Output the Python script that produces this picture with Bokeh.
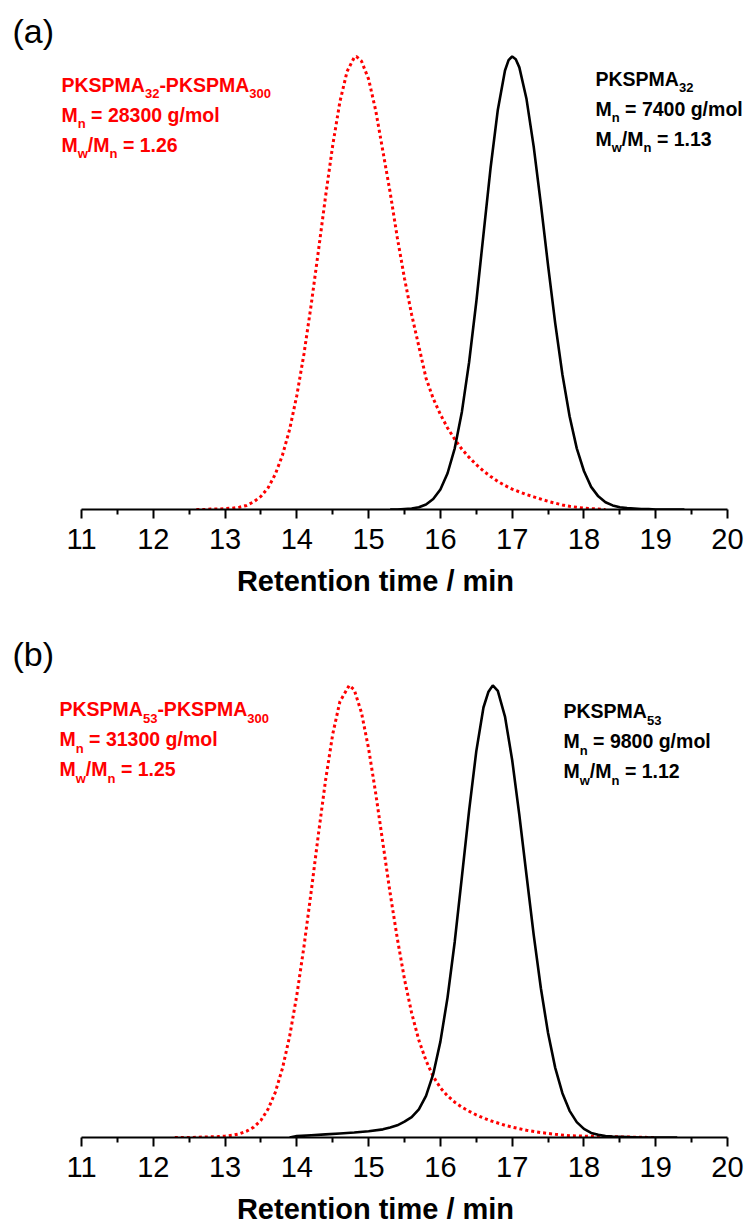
from bokeh.plotting import figure
from bokeh.layouts import column
from bokeh.models import Label, FixedTicker, Range1d
from bokeh.embed import file_html
from bokeh.resources import INLINE

# ---------------- data (retention time in min, normalised detector signal) ----------------
# panel (a)
a_block_t = [12.6, 12.7, 12.8, 12.9, 13.0, 13.1, 13.2, 13.3, 13.4, 13.5, 13.6, 13.7, 13.8, 13.9,
             14.0, 14.1, 14.2, 14.3, 14.4, 14.5, 14.6, 14.7, 14.8, 14.83, 14.9, 15.0, 15.1, 15.2,
             15.3, 15.4, 15.5, 15.6, 15.7, 15.8, 15.9, 16.0, 16.1, 16.2, 16.3, 16.4, 16.5, 16.6,
             16.7, 16.8, 16.9, 17.0, 17.1, 17.2, 17.3, 17.4, 17.5, 17.6, 17.7, 17.8, 17.9, 18.0,
             18.1, 18.2, 18.3]
a_block_y = [0.000, 0.000, 0.001, 0.001, 0.002, 0.003, 0.005, 0.009, 0.017, 0.029, 0.048, 0.078, 0.120, 0.177,
             0.252, 0.344, 0.452, 0.570, 0.691, 0.804, 0.900, 0.967, 0.998, 1.000, 0.990, 0.950, 0.880, 0.790,
             0.700, 0.600, 0.510, 0.430, 0.360, 0.290, 0.245, 0.210, 0.180, 0.155, 0.133, 0.115, 0.099, 0.085,
             0.073, 0.062, 0.053, 0.045, 0.039, 0.033, 0.028, 0.023, 0.018, 0.014, 0.010, 0.007, 0.005, 0.003,
             0.002, 0.001, 0.000]
a_macro_t = [15.3, 15.4, 15.5, 15.6, 15.7, 15.8, 15.9, 16.0, 16.1, 16.2, 16.3, 16.4, 16.5, 16.6,
             16.7, 16.8, 16.9, 16.95, 17.0, 17.05, 17.1, 17.2, 17.3, 17.4, 17.5, 17.6, 17.7, 17.8, 17.9, 18.0,
             18.1, 18.2, 18.3, 18.4, 18.5, 18.6, 18.7, 18.8, 18.9, 19.0, 19.2, 19.4]
a_macro_y = [0.000, 0.000, 0.001, 0.002, 0.005, 0.011, 0.023, 0.044, 0.080, 0.135, 0.216, 0.325, 0.458, 0.607,
             0.755, 0.882, 0.969, 0.992, 1.000, 0.994, 0.976, 0.906, 0.801, 0.674, 0.539, 0.411, 0.298, 0.206, 0.135, 0.085,
             0.050, 0.029, 0.016, 0.009, 0.005, 0.003, 0.002, 0.001, 0.001, 0.000, 0.000, 0.000]

# panel (b)
b_block_t = [12.3, 12.5, 12.7, 12.9, 13.0, 13.1, 13.2, 13.3, 13.4, 13.5, 13.6, 13.7, 13.8, 13.9,
             14.0, 14.1, 14.2, 14.3, 14.4, 14.5, 14.6, 14.73, 14.8, 14.9, 15.0, 15.1, 15.2, 15.3,
             15.4, 15.5, 15.6, 15.7, 15.8, 15.9, 16.0, 16.1, 16.2, 16.3, 16.4, 16.5, 16.6, 16.7,
             16.8, 16.9, 17.0, 17.2, 17.4, 17.6, 17.8, 18.0, 18.3, 18.6, 19.0]
b_block_y = [0.000, 0.000, 0.001, 0.002, 0.003, 0.005, 0.008, 0.014, 0.023, 0.038, 0.063, 0.100, 0.153, 0.224,
             0.315, 0.423, 0.544, 0.670, 0.790, 0.892, 0.964, 1.000, 0.990, 0.940, 0.860, 0.760, 0.650, 0.540,
             0.440, 0.350, 0.275, 0.215, 0.170, 0.135, 0.110, 0.092, 0.078, 0.067, 0.058, 0.050, 0.043, 0.037,
             0.032, 0.027, 0.023, 0.016, 0.011, 0.007, 0.004, 0.003, 0.002, 0.001, 0.000]
b_macro_t = [13.9, 14.0, 14.2, 14.4, 14.6, 14.8, 15.0, 15.2, 15.3, 15.4, 15.5, 15.6, 15.7, 15.8,
             15.9, 16.0, 16.1, 16.2, 16.3, 16.4, 16.5, 16.6, 16.67, 16.73, 16.8, 16.9, 17.0, 17.1, 17.2,
             17.3, 17.4, 17.5, 17.6, 17.7, 17.8, 17.9, 18.0, 18.1, 18.2, 18.3, 18.4, 18.6, 18.8,
             19.0, 19.3]
b_macro_y = [0.000, 0.003, 0.005, 0.007, 0.009, 0.011, 0.014, 0.018, 0.022, 0.027, 0.035, 0.045, 0.062, 0.092,
             0.140, 0.212, 0.310, 0.433, 0.577, 0.723, 0.854, 0.951, 0.986, 1.000, 0.988, 0.931, 0.835, 0.713, 0.580,
             0.448, 0.330, 0.231, 0.154, 0.098, 0.059, 0.034, 0.019, 0.010, 0.006, 0.003, 0.002, 0.001, 0.000,
             0.000, 0.000]

x_ticks = [11, 12, 13, 14, 15, 16, 17, 18, 19, 20]
x_minor = [11.5, 12.5, 13.5, 14.5, 15.5, 16.5, 17.5, 18.5, 19.5]
x_title = "Retention time / min"

# annotation texts: (text, is_subscript)
a_red_lines = [[("PKSPMA", False), ("32", True), ("-PKSPMA", False), ("300", True)],
               [("M", False), ("n", True), ("= 28300 g/mol", False)],
               [("M", False), ("w", True), ("/M", False), ("n", True), ("= 1.26", False)]]
a_blk_lines = [[("PKSPMA", False), ("32", True)],
               [("M", False), ("n", True), ("= 7400 g/mol", False)],
               [("M", False), ("w", True), ("/M", False), ("n", True), ("= 1.13", False)]]
b_red_lines = [[("PKSPMA", False), ("53", True), ("-PKSPMA", False), ("300", True)],
               [("M", False), ("n", True), ("= 31300 g/mol", False)],
               [("M", False), ("w", True), ("/M", False), ("n", True), ("= 1.25", False)]]
b_blk_lines = [[("PKSPMA", False), ("53", True)],
               [("M", False), ("n", True), ("= 9800 g/mol", False)],
               [("M", False), ("w", True), ("/M", False), ("n", True), ("= 1.12", False)]]

for t, y in [(a_block_t, a_block_y), (a_macro_t, a_macro_y), (b_block_t, b_block_y), (b_macro_t, b_macro_y)]:
    assert len(t) == len(y)

FONT = "Liberation Sans"
LEFT = 81
RIGHT_PX = 727
PX_PER_MIN = (RIGHT_PX - LEFT) / 9.0
PEAK_PX = 453.0
MAIN_SIZE = 19.5
SUB_SIZE = 13.0

# Arial/Liberation Sans Bold advance widths (per 1000 em) for offset computation
BOLD_W = {"P": 667, "K": 722, "S": 667, "M": 833, "A": 722, "-": 333, " ": 278, "=": 584,
          "g": 611, "/": 278, "m": 889, "o": 611, "l": 278, ".": 278, "n": 611, "w": 778}
for d in "0123456789":
    BOLD_W[d] = 556


def text_w(s, size):
    return sum(BOLD_W.get(c, 600) for c in s) * size / 1000.0


def make_panel(height, frame_h, letter, letter_pos, block_t, block_y, macro_t, macro_y,
               red_lines, red_pos, blk_lines, blk_pos):
    x0 = 11 - LEFT / PX_PER_MIN
    x1 = 20 + (750 - RIGHT_PX) / PX_PER_MIN
    p = figure(width=750, height=height, output_backend="svg", toolbar_location=None,
               y_axis_location=None, x_range=Range1d(x0, x1),
               y_range=Range1d(0, frame_h / PEAK_PX))
    p.min_border_left = 0
    p.min_border_right = 0
    p.min_border_top = 0
    p.min_border_bottom = height - frame_h
    p.outline_line_color = None
    p.grid.visible = False
    p.background_fill_color = "white"

    ax = p.xaxis[0]
    ax.bounds = (11, 20)
    ax.ticker = FixedTicker(ticks=x_ticks, minor_ticks=x_minor)
    ax.axis_line_width = 2
    ax.axis_line_color = "black"
    ax.major_tick_line_width = 2
    ax.minor_tick_line_width = 2
    ax.major_tick_out = 9
    ax.major_tick_in = 0
    ax.minor_tick_out = 5
    ax.minor_tick_in = 0
    ax.major_label_text_font = FONT
    ax.major_label_text_font_size = "29px"
    ax.major_label_text_color = "black"
    ax.major_label_standoff = 10
    ax.axis_label = x_title
    ax.axis_label_text_font = FONT
    ax.axis_label_text_font_style = "bold"
    ax.axis_label_text_font_size = "29px"
    ax.axis_label_text_color = "black"
    ax.axis_label_standoff = 13

    p.line(block_t, block_y, line_color="#ff0000", line_width=3, line_dash="3 3")
    p.line(macro_t, macro_y, line_color="black", line_width=2.6)

    def to_data(px, py):
        return 11 + (px - LEFT) / PX_PER_MIN, (frame_h - py) / PEAK_PX

    lx, ly = to_data(*letter_pos)
    p.add_layout(Label(x=lx, y=ly, text=letter, text_font=FONT, text_font_size="34px",
                       text_color="black", text_baseline="alphabetic", text_align="left"))

    for lines, (px0, baselines), color in [(red_lines, red_pos, "#ff0000"), (blk_lines, blk_pos, "black")]:
        for line, by in zip(lines, baselines):
            x, y = to_data(px0, by)
            off = 0.0
            for txt, sub in line:
                if txt.startswith("="):
                    off += text_w(" ", MAIN_SIZE)
                size = SUB_SIZE if sub else MAIN_SIZE
                p.add_layout(Label(x=x, y=y, x_offset=off, y_offset=-9 if sub else 0, text=txt,
                                   text_font=FONT, text_font_style="bold",
                                   text_font_size=f"{size}px",
                                   text_color=color, text_baseline="alphabetic", text_align="left"))
                off += text_w(txt, size)
    return p


top = make_panel(612, 509, "(a)", (12, 30), a_block_t, a_block_y, a_macro_t, a_macro_y,
                 a_red_lines, (61, [84, 114, 144]), a_blk_lines, (595, [78, 108, 138]))
bottom = make_panel(615, 526, "(b)", (12, 42), b_block_t, b_block_y, b_macro_t, b_macro_y,
                    b_red_lines, (59, [97, 127, 157]), b_blk_lines, (563, [99, 129, 159]))

layout = column(top, bottom, spacing=0)
open("out.html", "w").write(file_html(layout, INLINE))
